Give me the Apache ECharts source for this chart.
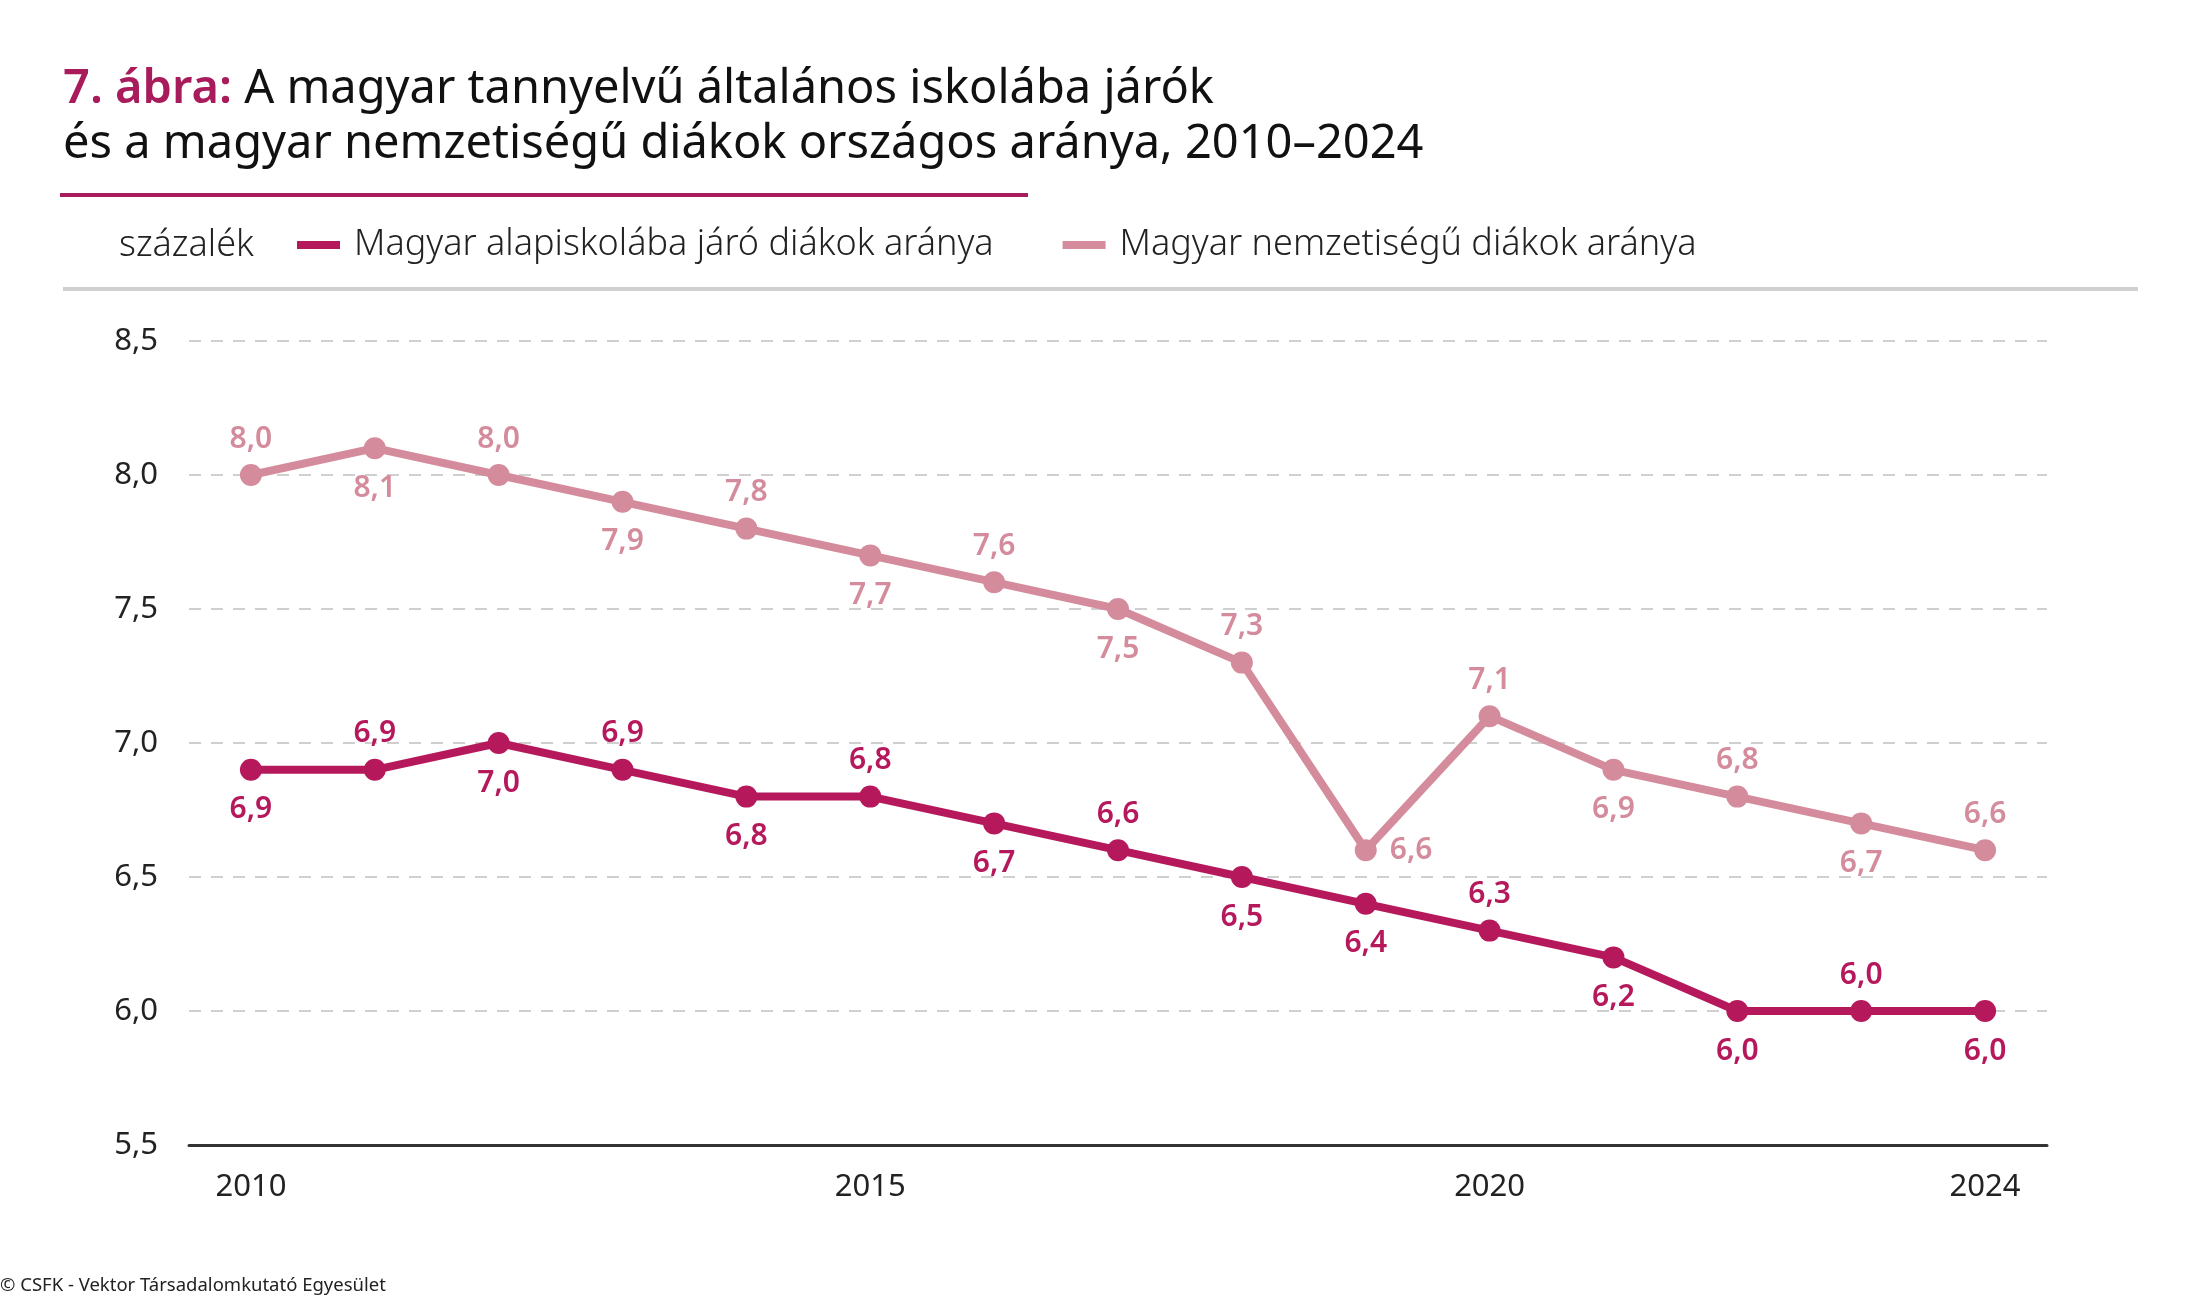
<!DOCTYPE html>
<html>
<head>
<meta charset="utf-8">
<script src="https://cdn.jsdelivr.net/npm/echarts@6/dist/echarts.min.js"></script>
<style>
  html, body { margin: 0; padding: 0; background: #fff; }
  #main { width: 2187px; height: 1299px; }
</style>
</head>
<body>
<div id="main"></div>
<script>
// adatok
const years = ['2010', '2011', '2012', '2013', '2014', '2015', '2016', '2017',
  '2018', '2019', '2020', '2021', '2022', '2023', '2024'];
const alapiskola = [6.9, 6.9, 7.0, 6.9, 6.8, 6.8, 6.7, 6.6, 6.5, 6.4, 6.3, 6.2, 6.0, 6.0, 6.0];
const nemzetiseg = [8.0, 8.1, 8.0, 7.9, 7.8, 7.7, 7.6, 7.5, 7.3, 6.6, 7.1, 6.9, 6.8, 6.7, 6.6];
const xTickLabels = ['2010', '2015', '2020', '2024'];

// címkék elhelyezése
const alapPos = ['bottom', 'top', 'bottom', 'top', 'bottom', 'top', 'bottom', 'top',
  'bottom', 'bottom', 'top', 'bottom', 'bottom', 'top', 'bottom'];
const nemzPos = ['top', 'bottom', 'top', 'bottom', 'top', 'bottom', 'top', 'bottom',
  'top', 'right', 'top', 'bottom', 'top', 'bottom', 'top'];

const DARK = '#B5195B';
const LIGHT = '#D48C9D';
const FONT = '"Noto Sans", "Open Sans", sans-serif';

const fmt = v => v.toFixed(1).replace('.', ',');

function pointsWithLabels(values, positions) {
  return values.map((v, i) => ({
    value: v,
    label: {
      position: positions[i],
      distance: positions[i] === 'bottom' ? 14 : (positions[i] === 'right' ? 13 : 10)
    }
  }));
}

const myChart = echarts.init(document.getElementById('main'));

myChart.setOption({
  backgroundColor: '#fff',
  textStyle: { fontFamily: FONT },
  animation: false,
  grid: { left: 189, right: 140, top: 341, bottom: 154 },
  legend: {
    left: 292,
    top: 222,
    itemWidth: 43,
    itemHeight: 8,
    itemGap: 69,
    icon: 'rect',
    textStyle: {
      fontFamily: FONT,
      fontSize: 36,
      fontWeight: 300,
      color: '#222',
      padding: [0, 0, 0, 9]
    },
    data: ['Magyar alapiskolába járó diákok aránya', 'Magyar nemzetiségű diákok aránya']
  },
  xAxis: {
    type: 'category',
    data: years,
    boundaryGap: true,
    axisLine: { lineStyle: { color: '#333', width: 3 } },
    axisTick: { show: false },
    axisLabel: {
      interval: (idx, val) => xTickLabels.includes(val),
      margin: 27,
      fontSize: 31,
      color: '#222',
      fontFamily: FONT
    }
  },
  yAxis: {
    type: 'value',
    min: 5.5,
    max: 8.5,
    interval: 0.5,
    axisLine: { show: false },
    axisTick: { show: false },
    axisLabel: {
      formatter: fmt,
      margin: 31,
      fontSize: 31,
      color: '#222',
      fontFamily: FONT
    },
    splitLine: { lineStyle: { color: '#cfcfcf', width: 2, type: [12, 10] } }
  },
  series: [
    {
      name: 'Magyar alapiskolába járó diákok aránya',
      type: 'line',
      data: pointsWithLabels(alapiskola, alapPos),
      color: DARK,
      symbol: 'circle',
      symbolSize: 22,
      lineStyle: { width: 8, color: DARK },
      itemStyle: { color: DARK },
      label: {
        show: true,
        formatter: p => fmt(p.value),
        fontSize: 30,
        fontWeight: 600,
        color: DARK,
        fontFamily: FONT
      },
      z: 3
    },
    {
      name: 'Magyar nemzetiségű diákok aránya',
      type: 'line',
      data: pointsWithLabels(nemzetiseg, nemzPos),
      color: LIGHT,
      symbol: 'circle',
      symbolSize: 22,
      lineStyle: { width: 8, color: LIGHT },
      itemStyle: { color: LIGHT },
      label: {
        show: true,
        formatter: p => fmt(p.value),
        fontSize: 30,
        fontWeight: 600,
        color: LIGHT,
        fontFamily: FONT
      },
      z: 2
    }
  ],
  graphic: [
    {
      type: 'text',
      left: 63,
      top: 66,
      style: {
        text: '{a|7. ábra: }{b|A magyar tannyelvű általános iskolába járók}',
        rich: {
          a: { fontFamily: FONT, fontSize: 47, fontWeight: 600, fill: '#A81C5B' },
          b: { fontFamily: FONT, fontSize: 47, fontWeight: 400, fill: '#111' }
        }
      }
    },
    {
      type: 'text',
      left: 63,
      top: 121,
      style: {
        text: 'és a magyar nemzetiségű diákok országos aránya, 2010–2024',
        font: '400 47px ' + FONT,
        fill: '#111'
      }
    },
    {
      type: 'rect',
      shape: { x: 60, y: 193, width: 968, height: 4 },
      style: { fill: '#A81C5B' }
    },
    {
      type: 'text',
      left: 119,
      top: 228,
      style: {
        text: 'százalék',
        font: '300 36px ' + FONT,
        fill: '#222'
      }
    },
    {
      type: 'rect',
      shape: { x: 63, y: 287, width: 2075, height: 4 },
      style: { fill: '#d0d0d0' }
    },
    {
      type: 'text',
      left: 0,
      top: 1276,
      style: {
        text: '© CSFK - Vektor Társadalomkutató Egyesület',
        font: '400 18.5px ' + FONT,
        fill: '#222'
      }
    }
  ]
});
</script>
</body>
</html>
